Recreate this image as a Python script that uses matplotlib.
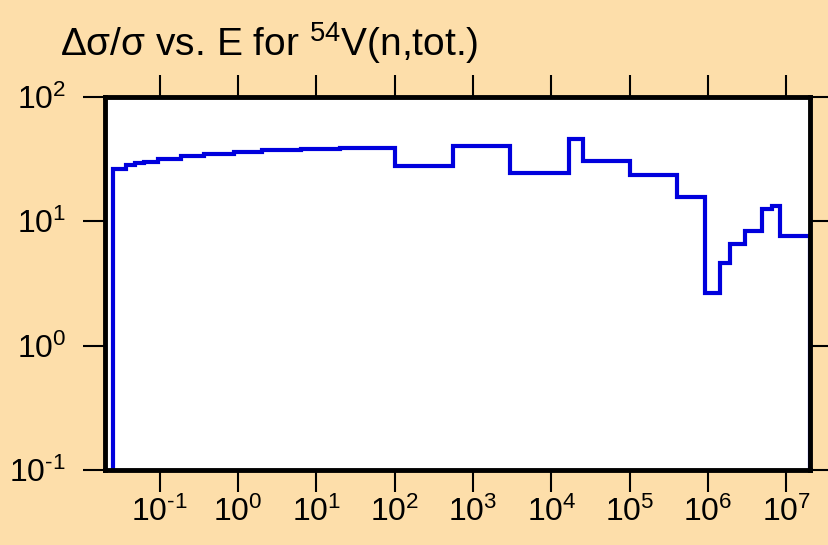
import matplotlib
matplotlib.use('Agg')
import matplotlib.pyplot as plt
from matplotlib.ticker import FixedLocator, NullLocator, FuncFormatter
import numpy as np

plt.rcParams['font.family'] = ['Liberation Sans', 'DejaVu Sans']
plt.rcParams['mathtext.fontset'] = 'custom'
plt.rcParams['mathtext.rm'] = 'Liberation Sans'
plt.rcParams['mathtext.it'] = 'Liberation Sans'
plt.rcParams['mathtext.bf'] = 'Liberation Sans'

# bin edges (eV) and relative uncertainty (%)
edges = [0.0253, 0.0373, 0.0477, 0.0638, 0.0946, 0.187, 0.371, 0.895, 2.0, 6.3,
         20, 100, 550, 3000, 1.7e4, 2.5e4, 1e5, 4e5, 9.2e5, 1.4e6, 1.9e6,
         3e6, 4.9e6, 6.5e6, 8.2e6, 2e7]
values = [26.5, 28.2, 29.3, 30.2, 31.9, 33.4, 35.0, 36.1, 37.5, 38.3,
          38.9, 28, 40, 24.3, 45.7, 30.8, 23.6, 15.6, 2.67, 4.65,
          6.56, 8.3, 12.6, 13.3, 7.6]

xticks = [1e-1, 1e0, 1e1, 1e2, 1e3, 1e4, 1e5, 1e6, 1e7]
yticks = [1e-1, 1e0, 1e1, 1e2]

bg = '#FDDEAA'
fig = plt.figure(figsize=(8.29, 5.45), dpi=100, facecolor=bg)
ax = fig.add_axes([105/829, 1 - 470/545, 705/829, 373/545])
ax.set_facecolor('white')

ax.stairs(values, edges, baseline=1e-3, color='#0000dd', lw=3)

ax.set_xscale('log')
ax.set_yscale('log')
ax.set_xlim(0.02, 2e7)
ax.set_ylim(0.1, 100)

def fmt(v, pos):
    p = int(round(np.log10(v)))
    if p < 0:
        return r'$10^{\text{-}%d}$' % (-p)
    return r'$10^{%d}$' % p

ax.xaxis.set_major_locator(FixedLocator(xticks))
ax.yaxis.set_major_locator(FixedLocator(yticks))
ax.xaxis.set_minor_locator(NullLocator())
ax.yaxis.set_minor_locator(NullLocator())
ax.xaxis.set_major_formatter(FuncFormatter(fmt))
ax.yaxis.set_major_formatter(FuncFormatter(fmt))

ax.tick_params(which='major', direction='out', length=16, width=1.5,
               top=True, right=True, labelsize=23)
ax.tick_params(axis='x', pad=3)
ax.tick_params(axis='y', pad=12)

for s in ax.spines.values():
    s.set_linewidth(3.5)

fig.text(60/829, 1 - 56/545, r'$\Delta\sigma/\sigma$ vs. E for $^{54}$V(n,tot.)',
         fontsize=28, va='baseline', ha='left')

fig.savefig('out.png', dpi=100, facecolor=bg)
